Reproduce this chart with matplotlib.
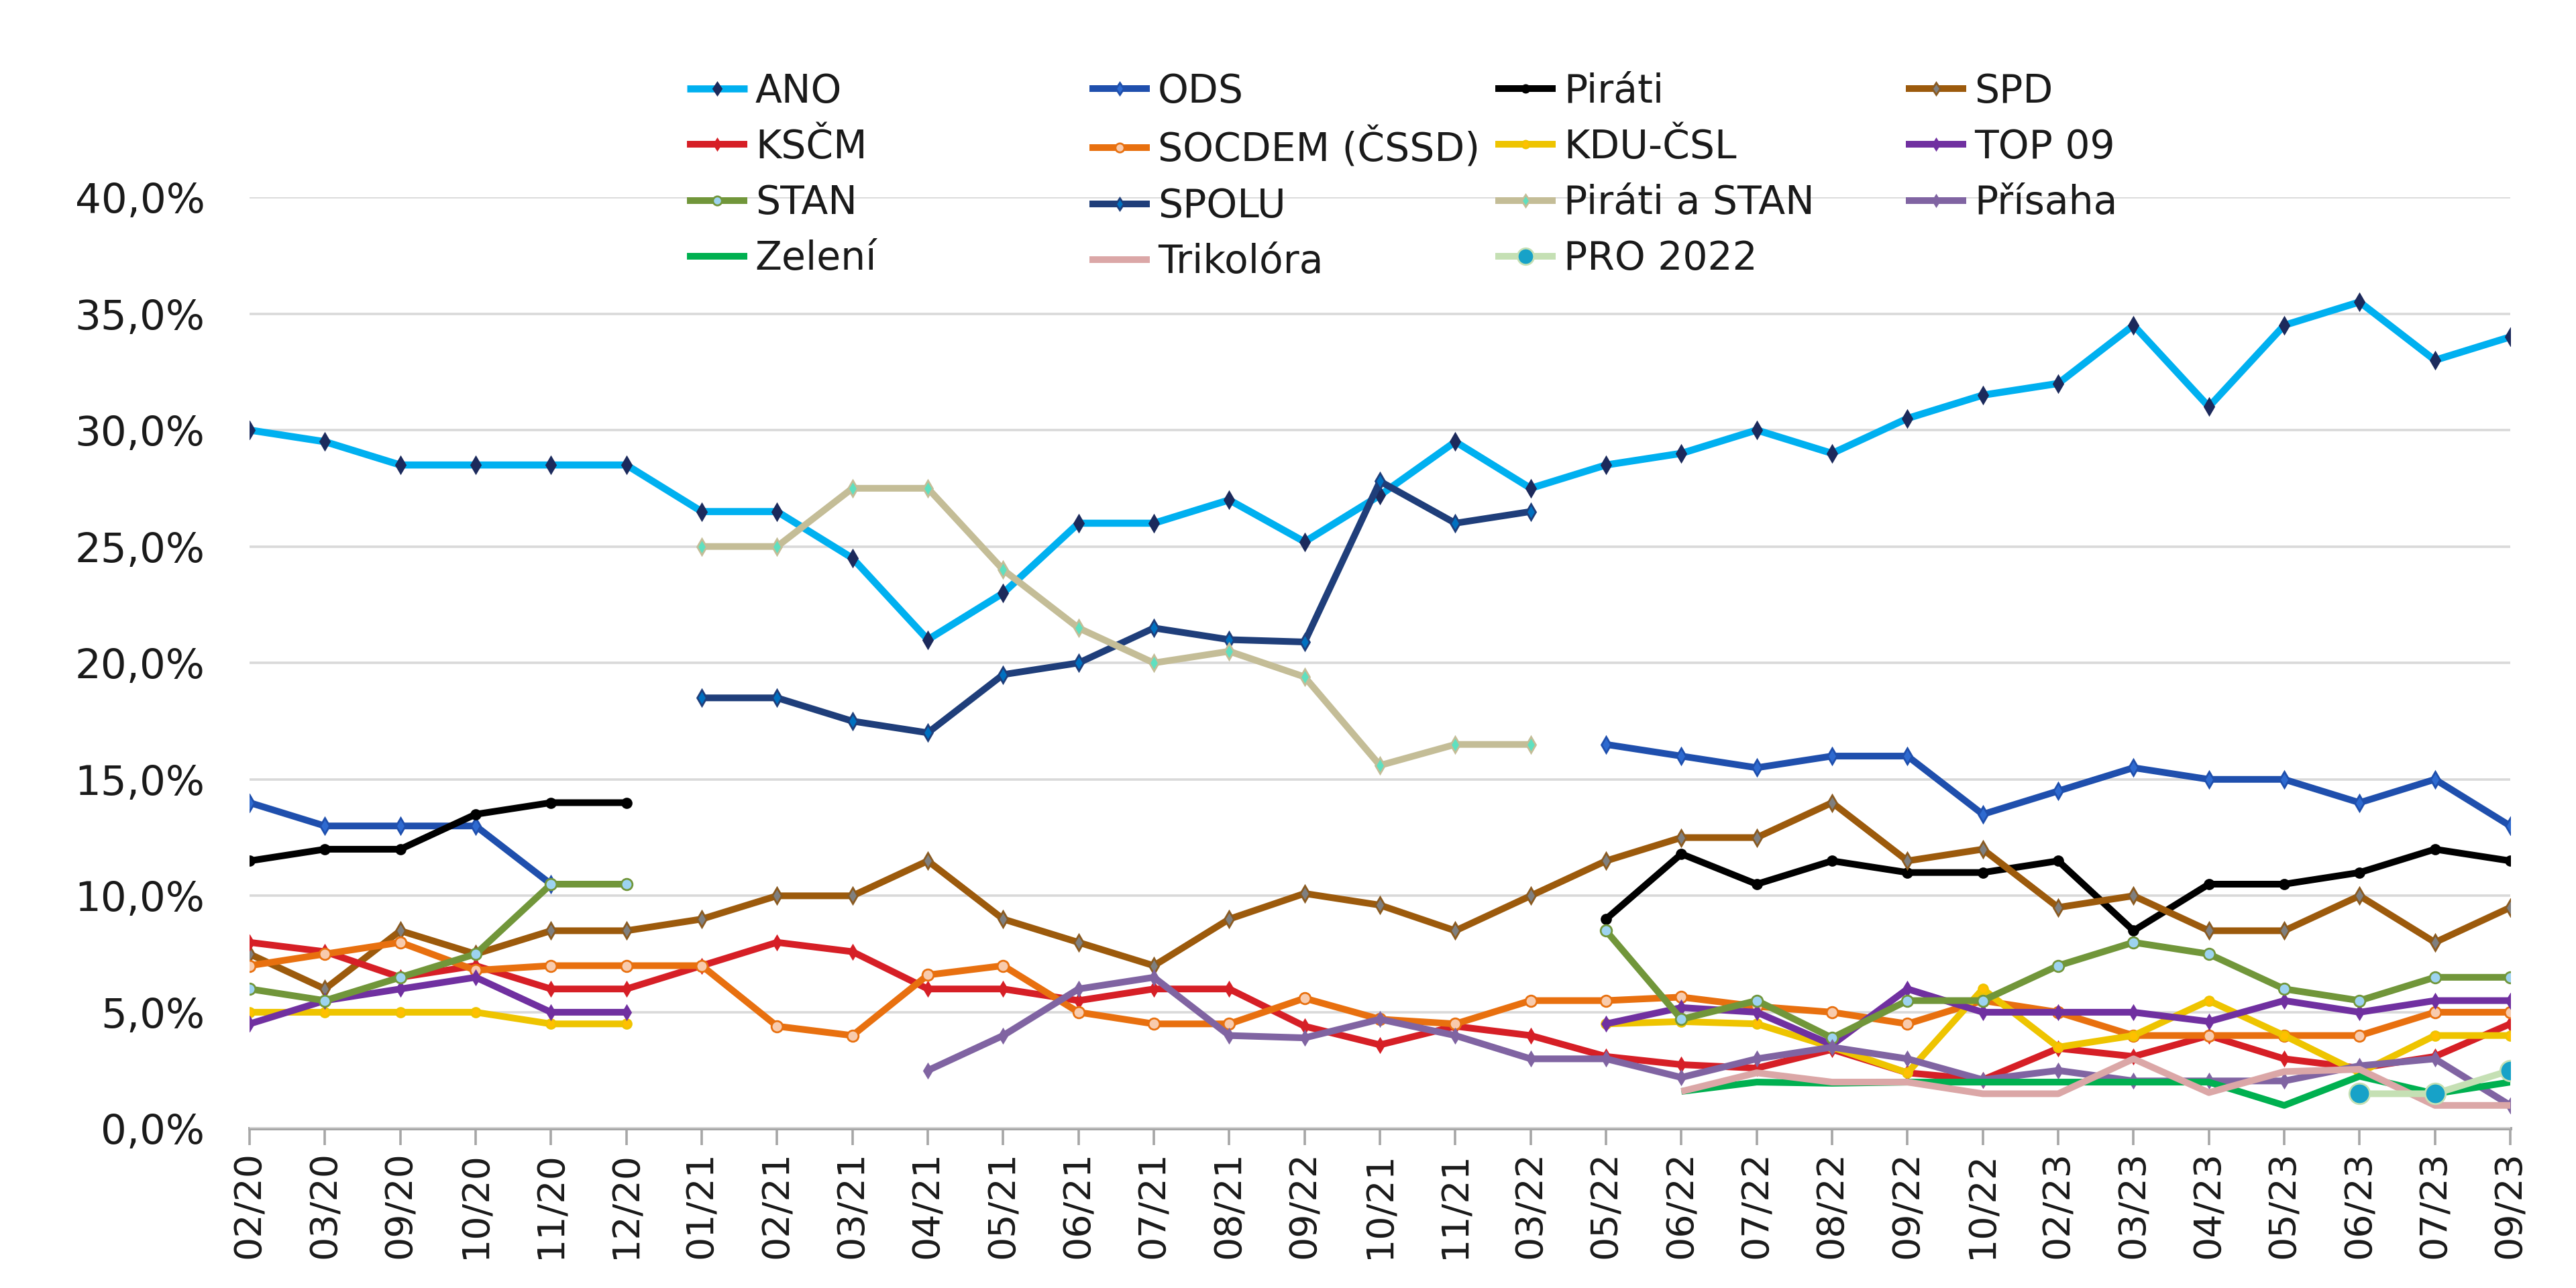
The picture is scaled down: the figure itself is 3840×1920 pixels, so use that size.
import numpy as np
import matplotlib
matplotlib.use("Agg")
import matplotlib.pyplot as plt
from matplotlib.ticker import FuncFormatter, FixedLocator

N = np.nan

categories = ['02/20', '03/20', '09/20', '10/20', '11/20', '12/20', '01/21', '02/21', '03/21',
              '04/21', '05/21', '06/21', '07/21', '08/21', '09/22', '10/21', '11/21', '03/22',
              '05/22', '06/22', '07/22', '08/22', '09/22', '10/22', '02/23', '03/23', '04/23',
              '05/23', '06/23', '07/23', '09/23']

ano = [30.0, 29.5, 28.5, 28.5, 28.5, 28.5, 26.5, 26.5, 24.5, 21.0, 23.0, 26.0, 26.0, 27.0, 25.2,
       27.2, 29.5, 27.5, 28.5, 29.0, 30.0, 29.0, 30.5, 31.5, 32.0, 34.5, 31.0, 34.5, 35.5, 33.0, 34.0]
ods = [14.0, 13.0, 13.0, 13.0, 10.5] + [N] * 13 + \
      [16.5, 16.0, 15.5, 16.0, 16.0, 13.5, 14.5, 15.5, 15.0, 15.0, 14.0, 15.0, 13.0]
pirati = [11.5, 12.0, 12.0, 13.5, 14.0, 14.0] + [N] * 12 + \
         [9.0, 11.8, 10.5, 11.5, 11.0, 11.0, 11.5, 8.5, 10.5, 10.5, 11.0, 12.0, 11.5]
spd = [7.5, 6.0, 8.5, 7.5, 8.5, 8.5, 9.0, 10.0, 10.0, 11.5, 9.0, 8.0, 7.0, 9.0, 10.1, 9.6, 8.5,
       10.0, 11.5, 12.5, 12.5, 14.0, 11.5, 12.0, 9.5, 10.0, 8.5, 8.5, 10.0, 8.0, 9.5]
kscm = [8.0, 7.6, 6.5, 7.0, 6.0, 6.0, 7.0, 8.0, 7.6, 6.0, 6.0, 5.5, 6.0, 6.0, 4.4, 3.6, 4.4, 4.0,
        3.1, 2.75, 2.6, 3.4, 2.4, 2.1, 3.45, 3.1, 4.0, 3.0, 2.6, 3.1, 4.5]
socdem = [7.0, 7.5, 8.0, 6.8, 7.0, 7.0, 7.0, 4.4, 4.0, 6.6, 7.0, 5.0, 4.5, 4.5, 5.6, 4.7, 4.5, 5.5,
          5.5, 5.65, 5.25, 5.0, 4.5, 5.5, 5.0, 4.0, 4.0, 4.0, 4.0, 5.0, 5.0]
kdu = [5.0, 5.0, 5.0, 5.0, 4.5, 4.5] + [N] * 12 + \
      [4.5, 4.6, 4.5, 3.5, 2.4, 6.0, 3.5, 4.0, 5.5, 4.0, 2.4, 4.0, 4.0]
top09 = [4.5, 5.5, 6.0, 6.5, 5.0, 5.0] + [N] * 12 + \
        [4.5, 5.2, 5.0, 3.6, 6.0, 5.0, 5.0, 5.0, 4.6, 5.5, 5.0, 5.5, 5.5]
stan = [6.0, 5.5, 6.5, 7.5, 10.5, 10.5] + [N] * 12 + \
       [8.5, 4.7, 5.5, 3.9, 5.5, 5.5, 7.0, 8.0, 7.5, 6.0, 5.5, 6.5, 6.5]
spolu = [N] * 6 + [18.5, 18.5, 17.5, 17.0, 19.5, 20.0, 21.5, 21.0, 20.9, 27.8, 26.0, 26.5] + [N] * 13
pirati_stan = [N] * 6 + [25.0, 25.0, 27.5, 27.5, 24.0, 21.5, 20.0, 20.5, 19.4, 15.6, 16.5, 16.5] + [N] * 13
prisaha = [N] * 9 + [2.5, 4.0, 6.0, 6.5, 4.0, 3.9, 4.7, 4.0, 3.0] + \
          [3.0, 2.2, 3.0, 3.5, 3.0, 2.1, 2.5, 2.05, 2.05, 2.05, 2.7, 3.0, 1.0]
zeleni = [N] * 19 + [1.6, 2.0, 1.95, 2.0, 2.0, 2.0, 2.0, 2.0, 1.0, 2.25, 1.5, 2.0]
trikolora = [N] * 19 + [1.6, 2.4, 2.0, 2.0, 1.5, 1.5, 3.0, 1.55, 2.45, 2.55, 1.0, 1.0]
pro2022 = [N] * 28 + [1.5, 1.5, 2.5]

series = [
    ("ANO", ano, dict(color='#00b0f0', marker='d', mfc='#1c2a5c', mec='#1c2a5c', ms=6, lw=3.8)),
    ("ODS", ods, dict(color='#1f4fad', marker='d', mfc='#2e6ad0', mec='#1f4fad', ms=6)),
    ("Piráti", pirati, dict(color='#000000', marker='o', mfc='#000000', mec='#000000', ms=5)),
    ("SPD", spd, dict(color='#9c5a0c', marker='d', mfc='#7f7f7f', mec='#8a5a20', ms=6)),
    ("KSČM", kscm, dict(color='#d61f26', marker='d', mfc='#d61f26', mec='#d61f26', ms=5)),
    ("SOCDEM (ČSSD)", socdem, dict(color='#e8700f', marker='o', mfc='#f8cbad', mec='#e8700f', ms=6)),
    ("KDU-ČSL", kdu, dict(color='#eec400', marker='o', mfc='#ffc000', mec='#eec400', ms=5)),
    ("TOP 09", top09, dict(color='#7030a0', marker='d', mfc='#7030a0', mec='#7030a0', ms=5)),
    ("STAN", stan, dict(color='#71963a', marker='o', mfc='#9dd3f0', mec='#71963a', ms=6)),
    ("SPOLU", spolu, dict(color='#1f3e7a', marker='d', mfc='#0070c0', mec='#1f3e7a', ms=6)),
    ("Piráti a STAN", pirati_stan, dict(color='#c4bd97', marker='d', mfc='#5fe0c0', mec='#c4bd97', ms=6)),
    ("Přísaha", prisaha, dict(color='#8064a2', marker='d', mfc='#8064a2', mec='#8064a2', ms=5)),
    ("Zelení", zeleni, dict(color='#00b050')),
    ("Trikolóra", trikolora, dict(color='#dba7a7')),
    ("PRO 2022", pro2022, dict(color='#c5e0b4', marker='o', mfc='#17a2c8', mec='#c5e0b4', ms=11)),
]

plt.rcParams['font.family'] = ['DejaVu Sans']

fig = plt.figure(figsize=(19.2, 9.6), dpi=200)
ax = fig.add_axes([0.0969, 0.1237, 0.9745 - 0.0969, 0.8469 - 0.1237])

x = np.arange(len(categories))
handles = {}
for name, vals, st in series:
    kw = dict(lw=3.6, solid_joinstyle='round', solid_capstyle='butt')
    kw.update(st)
    h, = ax.plot(x, np.array(vals, dtype=float), label=name, **kw)
    handles[name] = h

ax.set_xlim(0, len(categories) - 1)
ax.set_ylim(0, 40)
ax.yaxis.set_major_locator(FixedLocator(np.arange(0, 41, 5)))
ax.yaxis.set_major_formatter(FuncFormatter(lambda v, p: f"{v:.1f}".replace('.', ',') + '%'))
ax.set_xticks(x)
ax.set_xticklabels(categories, rotation=90)

ax.grid(axis='y', color='#d9d9d9', lw=1.3)
ax.set_axisbelow(True)
for s in ['left', 'right', 'top']:
    ax.spines[s].set_visible(False)
ax.spines['bottom'].set_color('#a6a6a6')
ax.spines['bottom'].set_linewidth(1.8)
ax.spines['bottom'].set_zorder(0.5)
ax.tick_params(axis='y', length=0, pad=24, labelsize=22, labelcolor='#1a1a1a')
ax.tick_params(axis='x', length=9, width=1.3, color='#a6a6a6', direction='out',
               pad=3, labelsize=20, labelcolor='#1a1a1a')

# legend: 4 equal-width columns, row-major order as in the reference
rows = [["ANO", "ODS", "Piráti", "SPD"],
        ["KSČM", "SOCDEM (ČSSD)", "KDU-ČSL", "TOP 09"],
        ["STAN", "SPOLU", "Piráti a STAN", "Přísaha"],
        ["Zelení", "Trikolóra", "PRO 2022"]]
col_x = [0.2666, 0.4228, 0.5804, 0.7398]
for c in range(4):
    names = [r[c] for r in rows if c < len(r)]
    fig.legend([handles[n] for n in names], names, loc='upper left',
               bbox_to_anchor=(col_x[c], 0.944), bbox_transform=fig.transFigure,
               frameon=False, fontsize=21, handlelength=1.55, handletextpad=0.2,
               labelspacing=0.45, borderpad=0, borderaxespad=0, numpoints=1,
               markerscale=0.8, labelcolor='#1a1a1a')

fig.savefig("out.png", dpi=200, facecolor='white')
